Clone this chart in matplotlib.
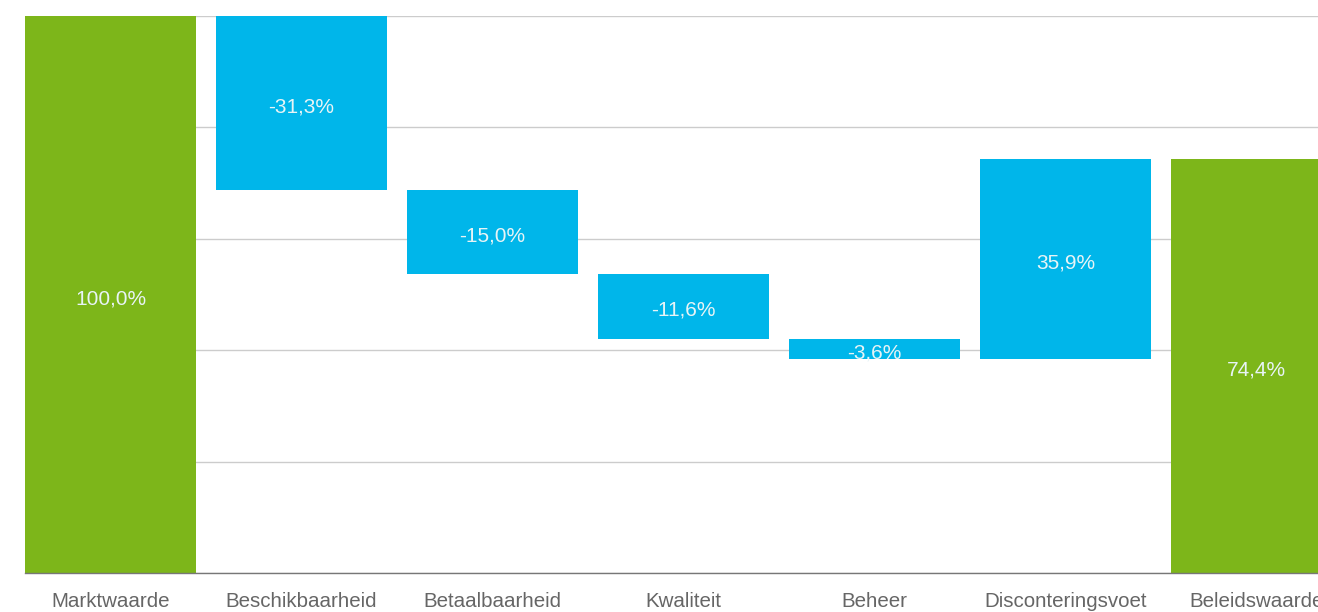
import matplotlib
matplotlib.use("Agg")
import matplotlib.pyplot as plt

categories = ["Marktwaarde", "Beschikbaarheid", "Betaalbaarheid", "Kwaliteit",
              "Beheer", "Disconteringsvoet", "Beleidswaarde"]
changes = [100.0, -31.3, -15.0, -11.6, -3.6, 35.9, 74.4]
is_total = [True, False, False, False, False, False, True]
labels = ["100,0%", "-31,3%", "-15,0%", "-11,6%", "-3,6%", "35,9%", "74,4%"]

green = "#7db61a"
blue = "#00b6ea"

plt.rcParams['font.family'] = ['Liberation Sans', 'DejaVu Sans']

fig = plt.figure(figsize=(13.18, 6.12), dpi=100)
ax = fig.add_axes([24.55 / 1318, 39 / 612, 1317.9 / 1318, 557 / 612])

running = 0.0
bottoms, heights, colors = [], [], []
for v, tot in zip(changes, is_total):
    if tot:
        bottoms.append(0.0)
        heights.append(v)
        colors.append(green)
        running = v
    else:
        if v < 0:
            bottoms.append(running + v)
            heights.append(-v)
        else:
            bottoms.append(running)
            heights.append(v)
        running += v
        colors.append(blue)

x = list(range(len(categories)))
ax.bar(x, heights, bottom=bottoms, width=0.9, color=colors, zorder=3)
for xi, b, h, lab in zip(x, bottoms, heights, labels):
    ax.annotate(lab, (xi, b + h / 2), xytext=(0, -3), textcoords="offset points",
                ha="center", va="center", color="#e8f4f6", fontsize=15, zorder=4)

ax.set_xlim(-0.45, 6.45)
ax.set_ylim(0, 100)
ax.set_yticks([0, 20, 40, 60, 80, 100])
ax.yaxis.grid(True, color="#cccccc", linewidth=1.0, zorder=0)
ax.set_axisbelow(True)
ax.tick_params(axis="y", left=False, labelleft=False)
ax.set_xticks(x)
ax.set_xticklabels(categories, fontsize=14.8, color="#666666")
ax.tick_params(axis="x", length=0, pad=14)
for s in ["top", "right", "left"]:
    ax.spines[s].set_visible(False)
ax.spines["bottom"].set_color("#777777")
ax.spines["bottom"].set_linewidth(1.0)
ax.spines["bottom"].set_zorder(5)

fig.savefig("out.png", dpi=100)
